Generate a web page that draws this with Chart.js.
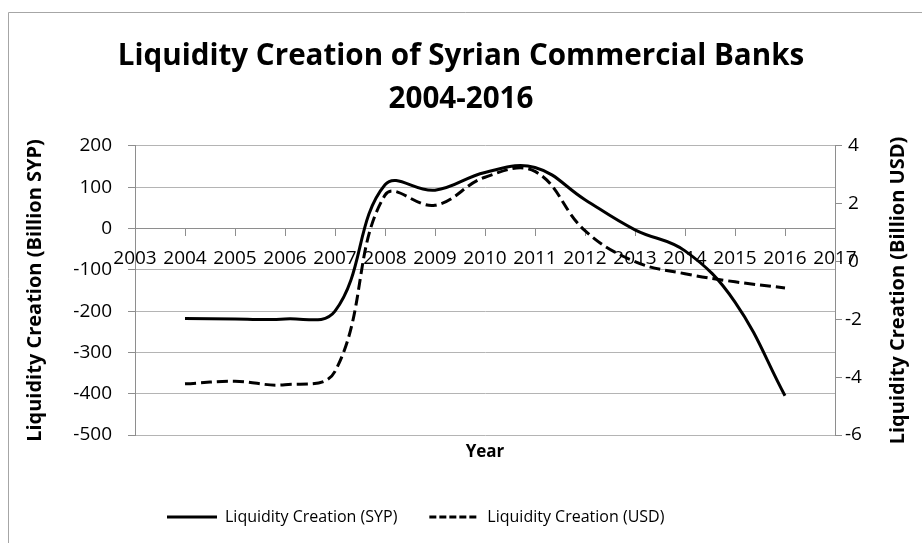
<!DOCTYPE html>
<html>
<head>
<meta charset="utf-8">
<script src="https://cdn.jsdelivr.net/npm/chart.js@4.4.1/dist/chart.umd.min.js"></script>
<style>
  html, body { margin: 0; padding: 0; background: #ffffff; }
  #wrap { width: 922px; height: 543px; position: relative; }
</style>
</head>
<body>
<div id="wrap"><canvas id="chart" width="922" height="543"></canvas></div>
<script>
// ---- Data ----
const years = [2004, 2005, 2006, 2007, 2008, 2009, 2010, 2011, 2012, 2013, 2014, 2015, 2016];
const sypValues = [-218, -219, -219, -200, 106, 93, 136, 148, 70, -3, -54, -178, -405];
const usdValues = [-4.23, -4.14, -4.26, -3.8, 2.3, 1.95, 2.92, 3.12, 1.07, 0.0, -0.42, -0.7, -0.91];

const xRange = [2003, 2017];
const leftRange = [-500, 200];
const leftStep = 100;
const rightRange = [-6, 4];
const rightStep = 2;

const titleLines = ['Liquidity Creation of Syrian Commercial Banks', '2004-2016'];
const seriesNames = ['Liquidity Creation (SYP)', 'Liquidity Creation (USD)'];
const xAxisTitle = 'Year';
const leftAxisTitle = 'Liquidity Creation (Billion SYP)';
const rightAxisTitle = 'Liquidity Creation (Billion USD)';

// ---- Styles ----
const FONT = 'Open Sans';
const GRID = '#b4b4b4';
const AXIS = '#8e8e8e';
const lineDashes = [[], [11, 5]];
const legendDashes = [[], [7, 3]];

const sypPoints = years.map((y, i) => ({ x: y, y: sypValues[i] }));
const usdPoints = years.map((y, i) => ({ x: y, y: usdValues[i] }));

const extras = {
  id: 'extras',
  beforeDraw(chart) {
    const ctx = chart.ctx;
    ctx.save();
    ctx.fillStyle = '#ffffff';
    ctx.fillRect(0, 0, chart.width, chart.height);
    ctx.strokeStyle = '#a6a6a6';
    ctx.lineWidth = 1;
    ctx.beginPath();
    ctx.moveTo(8.5, chart.height + 2);
    ctx.lineTo(8.5, 12.5);
    ctx.lineTo(chart.width + 2, 12.5);
    ctx.stroke();
    ctx.restore();
  },
  afterDraw(chart) {
    const ctx = chart.ctx;
    const area = chart.chartArea;
    ctx.save();
    ctx.fillStyle = '#000000';
    ctx.font = 'bold 20px "' + FONT + '"';
    ctx.textAlign = 'center';
    ctx.textBaseline = 'middle';
    ctx.translate(898, (area.top + area.bottom) / 2);
    ctx.rotate(-Math.PI / 2);
    ctx.fillText(rightAxisTitle, 0, 0);
    ctx.restore();
  }
};

new Chart(document.getElementById('chart'), {
  type: 'line',
  data: {
    datasets: [
      {
        label: seriesNames[0],
        data: sypPoints,
        yAxisID: 'y',
        borderColor: '#000000',
        backgroundColor: '#000000',
        borderWidth: 3,
        borderDash: lineDashes[0],
        pointRadius: 0,
        tension: 0.4,
        fill: false
      },
      {
        label: seriesNames[1],
        data: usdPoints,
        yAxisID: 'y1',
        borderColor: '#000000',
        backgroundColor: '#000000',
        borderWidth: 3,
        borderDash: lineDashes[1],
        pointRadius: 0,
        tension: 0.4,
        fill: false
      }
    ]
  },
  options: {
    responsive: false,
    animation: false,
    devicePixelRatio: 1,
    layout: { padding: { top: 0, left: 0, right: 0, bottom: 8 } },
    plugins: {
      title: {
        display: true,
        text: titleLines,
        color: '#000000',
        font: { family: FONT, size: 29.6, weight: 'bold', lineHeight: 1.4527 },
        padding: { top: 35.5, bottom: 24.5 }
      },
      subtitle: {
        display: true,
        text: xAxisTitle,
        position: 'bottom',
        fullSize: false,
        weight: 500,
        color: '#000000',
        font: { family: FONT, size: 17, weight: 'bold', lineHeight: 1.2 },
        padding: { top: 6.8, bottom: 14.8 }
      },
      legend: {
        display: true,
        position: 'bottom',
        fullSize: false,
        align: 'start',
        labels: {
          color: '#000000',
          font: { family: FONT, size: 16 },
          usePointStyle: true,
          pointStyle: 'line',
          pointStyleWidth: 50,
          padding: 32,
          generateLabels(chart) {
            const items = Chart.defaults.plugins.legend.labels.generateLabels(chart);
            items.forEach((it, i) => {
              it.lineDash = legendDashes[i];
              it.lineWidth = 3;
              it.strokeStyle = '#000000';
              it.lineCap = 'butt';
            });
            return items;
          }
        }
      },
      tooltip: { enabled: false }
    },
    scales: {
      x: {
        type: 'linear',
        position: { y: 0 },
        min: xRange[0],
        max: xRange[1],
        afterFit(scale) { scale.height = 0; },
        ticks: {
          stepSize: 1,
          autoSkip: false,
          maxRotation: 0,
          minRotation: 0,
          padding: 12,
          color: '#000000',
          font: { family: FONT, size: 19 },
          callback: (v) => String(v)
        },
        grid: { drawOnChartArea: false, drawTicks: true, tickLength: 7, color: AXIS },
        border: { display: true, color: AXIS, width: 1 }
      },
      y: {
        type: 'linear',
        position: 'left',
        min: leftRange[0],
        max: leftRange[1],
        afterFit(scale) { scale.width = 135; },
        ticks: {
          stepSize: leftStep,
          padding: 16,
          color: '#000000',
          font: { family: FONT, size: 19 }
        },
        grid: { color: GRID, tickColor: AXIS, tickLength: 7 },
        border: { display: true, color: AXIS },
        title: {
          display: true,
          text: leftAxisTitle,
          color: '#000000',
          font: { family: FONT, size: 20, weight: 'bold', lineHeight: 1.2 },
          padding: { top: 23, bottom: 0 }
        }
      },
      y1: {
        type: 'linear',
        position: 'right',
        min: rightRange[0],
        max: rightRange[1],
        afterFit(scale) { scale.width = 87; },
        ticks: {
          stepSize: rightStep,
          padding: 3,
          crossAlign: 'center',
          color: '#000000',
          font: { family: FONT, size: 19 }
        },
        grid: { drawOnChartArea: false, tickColor: AXIS, tickLength: 7 },
        border: { display: true, color: AXIS }
      }
    }
  },
  plugins: [extras]
});
</script>
</body>
</html>
